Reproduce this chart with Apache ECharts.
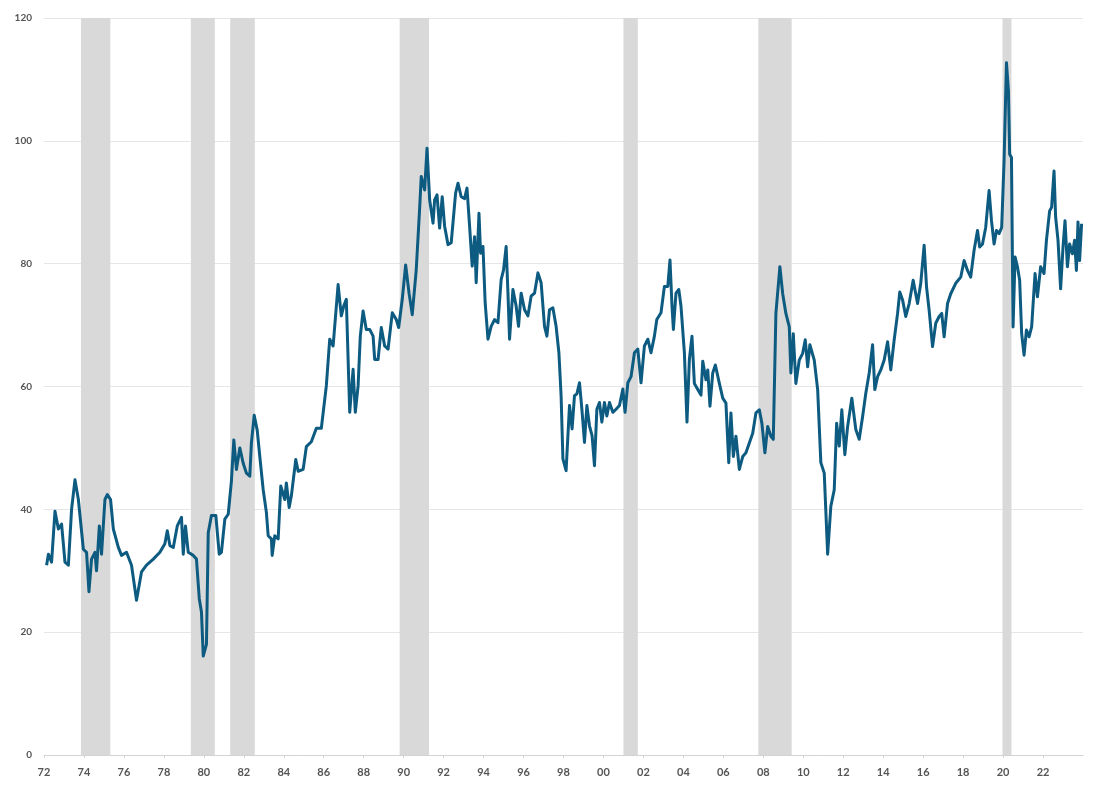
<!DOCTYPE html>
<html>
<head>
<meta charset="utf-8">
<style>
  html, body { margin: 0; padding: 0; background: #ffffff; }
  #chart { width: 1100px; height: 794px; }
</style>
<script src="https://cdn.jsdelivr.net/npm/echarts@6/dist/echarts.min.js"></script>
</head>
<body>
<div id="chart"></div>
<script>
// ---- Data ----
const years1972_1986 = [1972.13,1972.22,1972.38,1972.55,1972.72,1972.88,1973.05,1973.22,1973.38,1973.55,1973.72,1973.97,1974.13,1974.25,1974.38,1974.55,1974.63,1974.77,1974.88,1975.05,1975.17,1975.33,1975.47,1975.72,1975.88,1976.13,1976.38,1976.63,1976.88,1977.13,1977.47,1977.8,1978.05,1978.17,1978.3,1978.47,1978.67,1978.88,1978.97,1979.08,1979.22,1979.47,1979.63,1979.77,1979.88,1979.97,1980.13,1980.22,1980.38,1980.6,1980.77,1980.88,1981.05,1981.22,1981.38,1981.5,1981.63,1981.8,1981.97,1982.13,1982.3,1982.38,1982.52,1982.67,1982.8,1982.97,1983.13,1983.22,1983.38,1983.42,1983.55,1983.72,1983.85,1984.05,1984.13,1984.27,1984.38,1984.6,1984.72,1984.97,1985.13,1985.38,1985.63,1985.88];
const values1972_1986 = [30.9,32.7,31.4,39.7,36.8,37.6,31.4,30.9,40.0,44.8,41.6,33.5,33.0,26.6,31.9,33.0,30.0,37.3,32.7,41.6,42.4,41.6,36.8,33.8,32.5,33.0,30.9,25.2,29.8,30.9,31.9,33.0,34.4,36.5,34.1,33.8,37.3,38.7,32.7,37.3,33.0,32.5,31.9,25.5,23.3,16.1,18.0,36.2,39.0,39.0,32.7,33.0,38.4,39.2,44.6,51.3,46.5,50.0,47.5,45.9,45.4,50.8,55.3,52.9,48.6,43.2,39.5,35.7,35.2,32.5,35.7,35.2,43.8,41.6,44.3,40.3,42.2,48.1,46.2,46.5,50.2,51.0,53.2,53.2];

const years1986_2004 = [1986.13,1986.3,1986.47,1986.72,1986.88,1987.0,1987.13,1987.3,1987.47,1987.58,1987.72,1987.83,1987.97,1988.13,1988.3,1988.47,1988.55,1988.72,1988.88,1989.05,1989.22,1989.43,1989.63,1989.75,1989.93,1990.1,1990.27,1990.43,1990.63,1990.8,1990.88,1991.05,1991.17,1991.3,1991.47,1991.55,1991.67,1991.8,1991.93,1992.05,1992.22,1992.38,1992.6,1992.72,1992.88,1993.05,1993.17,1993.3,1993.43,1993.55,1993.63,1993.77,1993.85,1993.97,1994.08,1994.22,1994.38,1994.55,1994.72,1994.88,1995.0,1995.13,1995.22,1995.3,1995.47,1995.63,1995.75,1995.88,1996.05,1996.22,1996.38,1996.55,1996.72,1996.88,1997.05,1997.17,1997.3,1997.47,1997.63,1997.77,1997.88,1997.97,1998.13,1998.3,1998.43,1998.55,1998.67,1998.8,1998.92,1999.05,1999.17,1999.3,1999.43,1999.55,1999.67,1999.8,1999.92,2000.05,2000.17,2000.3,2000.47,2000.63,2000.8,2000.97,2001.08,2001.22,2001.38,2001.55,2001.72,2001.88,2002.05,2002.22,2002.38,2002.55,2002.67,2002.88,2003.05,2003.22,2003.33,2003.43,2003.5,2003.63,2003.77,2003.88,2004.05,2004.18,2004.3,2004.43];
const values1986_2004 = [60.1,67.7,66.6,76.6,71.5,73.1,74.2,55.8,62.8,55.8,60.1,68.2,72.3,69.3,69.3,68.2,64.4,64.4,69.6,66.6,66.1,72.0,70.9,69.6,74.2,79.8,75.2,71.7,79.0,89.0,94.2,92.0,98.8,90.4,86.6,90.4,91.2,85.8,90.9,86.1,83.1,83.4,91.5,93.1,90.9,90.6,92.3,86.1,79.6,84.4,76.9,88.2,81.7,82.8,73.6,67.7,69.8,70.9,70.4,77.4,79.0,82.8,75.2,67.7,75.8,73.1,69.8,75.2,72.5,71.5,74.7,75.2,78.5,76.9,69.8,68.2,72.5,72.8,69.8,65.5,58.5,48.2,46.3,56.9,53.1,58.5,58.8,60.6,56.3,50.9,56.9,53.6,52.0,47.1,56.3,57.4,54.2,57.4,55.2,57.4,55.8,56.3,56.9,59.6,55.8,60.6,61.6,65.5,66.1,60.6,66.6,67.7,65.5,68.2,70.9,72.0,76.3,76.3,80.6,73.1,69.3,75.2,75.8,73.1,65.5,54.2,64.4,68.2];

const years2004_2024 = [2004.55,2004.72,2004.88,2004.97,2005.13,2005.22,2005.33,2005.47,2005.6,2005.8,2005.97,2006.13,2006.27,2006.38,2006.5,2006.63,2006.8,2006.97,2007.13,2007.3,2007.47,2007.63,2007.8,2007.93,2008.08,2008.22,2008.38,2008.5,2008.63,2008.83,2008.97,2009.13,2009.3,2009.38,2009.5,2009.63,2009.8,2009.97,2010.1,2010.22,2010.33,2010.55,2010.72,2010.88,2011.05,2011.22,2011.38,2011.55,2011.67,2011.8,2011.93,2012.08,2012.22,2012.43,2012.63,2012.8,2012.97,2013.13,2013.3,2013.47,2013.58,2013.72,2013.88,2014.05,2014.22,2014.38,2014.55,2014.72,2014.83,2014.97,2015.13,2015.3,2015.5,2015.72,2015.88,2016.05,2016.17,2016.3,2016.47,2016.63,2016.8,2016.93,2017.05,2017.22,2017.38,2017.63,2017.88,2018.05,2018.22,2018.38,2018.55,2018.72,2018.83,2018.97,2019.13,2019.3,2019.42,2019.55,2019.67,2019.8,2019.93,2020.05,2020.17,2020.27,2020.33,2020.42,2020.5,2020.6,2020.72,2020.83,2020.93,2021.05,2021.17,2021.3,2021.43,2021.6,2021.72,2021.88,2022.05,2022.17,2022.33,2022.43,2022.55,2022.63,2022.75,2022.88,2023.0,2023.1,2023.22,2023.33,2023.47,2023.58,2023.67,2023.75,2023.83,2023.93];
const values2004_2024 = [60.5,59.5,58.6,64.1,61.1,62.7,56.8,62.2,63.5,60.5,58.1,57.3,47.6,55.7,48.6,51.9,46.5,48.6,49.2,50.8,52.4,55.7,56.2,54.0,49.2,53.5,51.9,51.4,71.9,79.5,75.1,71.9,69.7,62.2,68.6,60.5,64.3,65.4,67.6,63.2,66.8,64.3,59.5,47.6,45.9,32.7,40.5,43.2,54.0,50.3,56.2,48.9,53.5,58.1,53.0,51.4,55.1,58.9,62.2,66.8,59.5,61.6,62.7,64.3,67.3,62.7,67.6,71.9,75.4,74.1,71.4,73.5,77.3,73.5,76.8,83.0,76.2,72.4,66.5,70.3,71.4,71.9,68.1,73.5,75.1,76.8,77.8,80.5,78.9,77.8,82.2,85.4,82.7,83.2,85.9,91.9,87.0,83.2,85.4,84.9,85.9,96.8,112.7,108.1,97.8,97.3,69.7,81.1,79.5,77.3,68.6,65.1,69.2,68.1,69.7,78.4,74.6,79.5,78.4,83.8,88.6,89.2,95.1,87.6,83.8,75.9,82.7,87.0,79.5,83.2,81.6,83.8,78.9,86.8,80.5,86.5];

// Shaded periods (start, end) in decimal years
const shadeStarts = [1973.85, 1979.35, 1981.32, 1989.8, 2001.0, 2007.75, 2019.97];
const shadeEnds   = [1975.32, 1980.55, 1982.55, 1991.27, 2001.72, 2009.42, 2020.42];

// y-axis ticks
const yTicks = [0, 20, 40, 60, 80, 100, 120];

// ---- Build ----
const allYears = years1972_1986.concat(years1986_2004, years2004_2024);
const allValues = values1972_1986.concat(values1986_2004, values2004_2024);
const lineData = allYears.map((y, i) => [y, allValues[i]]);
const areas = shadeStarts.map((s, i) => [{ xAxis: s }, { xAxis: shadeEnds[i] }]);

const chart = echarts.init(document.getElementById('chart'), null, { renderer: 'canvas' });
chart.setOption({
  animation: false,
  backgroundColor: '#ffffff',
  grid: { left: 44, right: 17, top: 18, bottom: 39, containLabel: false },
  xAxis: {
    type: 'value',
    min: 1972, max: 2024, interval: 2,
    axisLine: { show: true, lineStyle: { color: '#d3d3d3', width: 1 } },
    axisTick: { show: true, length: 3, lineStyle: { color: '#d3d3d3' } },
    splitLine: { show: false },
    axisLabel: {
      showMaxLabel: false,
      margin: 12,
      color: '#555555',
      fontSize: 11,
      fontFamily: 'Lato, "Liberation Sans", sans-serif',
      fontWeight: 'bold',
      formatter: v => String(Math.round(v) % 100).padStart(2, '0')
    }
  },
  yAxis: {
    type: 'value',
    min: yTicks[0], max: yTicks[yTicks.length - 1], interval: 20,
    axisLine: { show: false },
    axisTick: { show: false },
    splitLine: { show: true, lineStyle: { color: '#e6e6e6', width: 1 } },
    axisLabel: {
      margin: 12,
      color: '#555555',
      fontSize: 10,
      fontFamily: 'Lato, "Liberation Sans", sans-serif',
      fontWeight: 'bold'
    }
  },
  series: [
    {
      type: 'line',
      data: [],
      z: 1,
      silent: true,
      markArea: {
        silent: true,
        itemStyle: { color: '#d9d9d9' },
        data: areas
      }
    },
    {
      type: 'line',
      data: lineData,
      z: 3,
      showSymbol: false,
      smooth: false,
      lineStyle: { color: '#0d5b80', width: 3, join: 'round' },
      itemStyle: { color: '#0d5b80' }
    }
  ]
});
</script>
</body>
</html>
